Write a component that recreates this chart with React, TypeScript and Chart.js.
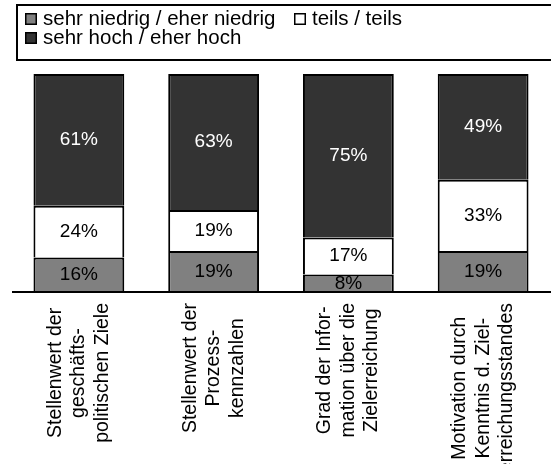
import React, { useEffect, useRef } from "react";
import { Chart, registerables } from "chart.js";

Chart.register(...registerables);

const categories: string[][] = [
  ["Stellenwert der", "geschäfts-", "politischen Ziele"],
  ["Stellenwert der", "Prozess-", "kennzahlen"],
  ["Grad der Infor-", "mation über die", "Zielerreichung"],
  ["Motivation durch", "Kenntnis d. Ziel-", "erreichungsstandes"],
];
const seriesNames = ["sehr niedrig / eher niedrig", "teils / teils", "sehr hoch / eher hoch"];
const lowValues = [16, 19, 8, 19];
const midValues = [24, 19, 17, 33];
const highValues = [61, 63, 75, 49];
const seriesColors = ["#808080", "#ffffff", "#333333"];
const valueLabelColors = ["#000000", "#000000", "#ffffff"];

const FONT = '"Liberation Sans", Arial, sans-serif';

function drawText(
  ctx: CanvasRenderingContext2D,
  text: string,
  x: number,
  y: number,
  size: number,
  align: CanvasTextAlign,
  rotate: boolean,
  color: string
) {
  ctx.save();
  ctx.translate(x, y);
  if (rotate) ctx.rotate(-Math.PI / 2);
  ctx.font = `${size}px ${FONT}`;
  ctx.textAlign = align;
  ctx.textBaseline = "middle";
  ctx.fillStyle = color;
  ctx.fillText(text, 0, 0);
  ctx.restore();
}

function textWidth(ctx: CanvasRenderingContext2D, text: string, size: number) {
  ctx.save();
  ctx.font = `${size}px ${FONT}`;
  const w = ctx.measureText(text).width;
  ctx.restore();
  return w;
}

export default function App() {
  const ref = useRef<HTMLCanvasElement | null>(null);

  useEffect(() => {
    const canvas = ref.current;
    if (!canvas) return;
    const raw = [lowValues, midValues, highValues];
    const totals = lowValues.map((_, i) => raw.reduce((s, arr) => s + arr[i], 0));
    const shares = raw.map((arr) => arr.map((v, i) => (v / totals[i]) * 100));

    const overlay = {
      id: "overlay",
      afterDatasetsDraw(chart: any) {
        const ctx: CanvasRenderingContext2D = chart.ctx;
        const area = chart.chartArea;
        const xScale = chart.scales.x;

        // value labels (clipped to chart area)
        ctx.save();
        ctx.beginPath();
        ctx.rect(area.left, area.top - 2, area.right - area.left, area.bottom - area.top + 1);
        ctx.clip();
        raw.forEach((arr, d) => {
          const meta = chart.getDatasetMeta(d);
          meta.data.forEach((bar: any, i: number) => {
            const cy = (bar.y + bar.base) / 2;
            drawText(ctx, `${arr[i]}%`, bar.x, cy, 19, "center", false, valueLabelColors[d]);
          });
        });
        ctx.restore();

        // axis line
        ctx.save();
        ctx.strokeStyle = "#000";
        ctx.lineWidth = 2;
        ctx.beginPath();
        ctx.moveTo(Math.round(area.left), area.bottom);
        ctx.lineTo(chart.width, area.bottom);
        ctx.stroke();
        ctx.restore();

        // category labels, rotated
        const lineGap = 23.5;
        const labelSize = 19.5;
        categories.forEach((lines, i) => {
          const cx = xScale.getPixelForValue(i);
          const widths = lines.map((l) => textWidth(ctx, l, labelSize));
          const maxW = Math.max(...widths);
          const top = area.bottom + 11;
          const cy = top + maxW / 2;
          lines.forEach((l, k) => {
            const x = cx + (k - (lines.length - 1) / 2) * lineGap;
            drawText(ctx, l, x, cy, labelSize, "center", true, "#000");
          });
        });

        // legend box
        ctx.save();
        ctx.strokeStyle = "#000";
        ctx.lineWidth = 2;
        ctx.strokeRect(17, 5, chart.width + 20, 55);
        const items = [
          { x: 25, y: 19 },
          { x: 294, y: 19 },
          { x: 25, y: 38 },
        ];
        items.forEach((it, k) => {
          ctx.fillStyle = seriesColors[k];
          ctx.fillRect(it.x, it.y - 6, 12, 12);
          ctx.lineWidth = 1.5;
          ctx.strokeStyle = "#000";
          ctx.strokeRect(it.x + 0.75, it.y - 5.25, 10.5, 10.5);
          drawText(ctx, seriesNames[k], it.x + 18, it.y, 20.5, "left", false, "#000");
        });
        ctx.restore();
      },
    };

    const chart = new Chart(canvas, {
      type: "bar",
      data: {
        labels: categories.map((c) => c.join(" ")),
        datasets: shares.map((vals, d) => ({
          label: seriesNames[d],
          data: vals,
          backgroundColor: seriesColors[d],
          borderColor: "#000000",
          borderWidth: 2,
          barPercentage: 0.674,
          categoryPercentage: 1,
        })),
      },
      options: {
        responsive: false,
        animation: false,
        devicePixelRatio: 1,
        layout: { padding: { left: 11.5, right: 0.5, top: 74, bottom: 172 } },
        plugins: { legend: { display: false }, tooltip: { enabled: false } },
        scales: {
          x: { stacked: true, display: false },
          y: { stacked: true, display: false, min: 0, max: 100 },
        },
      },
      plugins: [overlay],
    });
    return () => chart.destroy();
  }, []);

  return (
    <div style={{ position: "fixed", left: 0, top: 0, width: 551, height: 464, background: "#fff" }}>
      <canvas ref={ref} width={551} height={464} style={{ display: "block", width: 551, height: 464 }} />
    </div>
  );
}
